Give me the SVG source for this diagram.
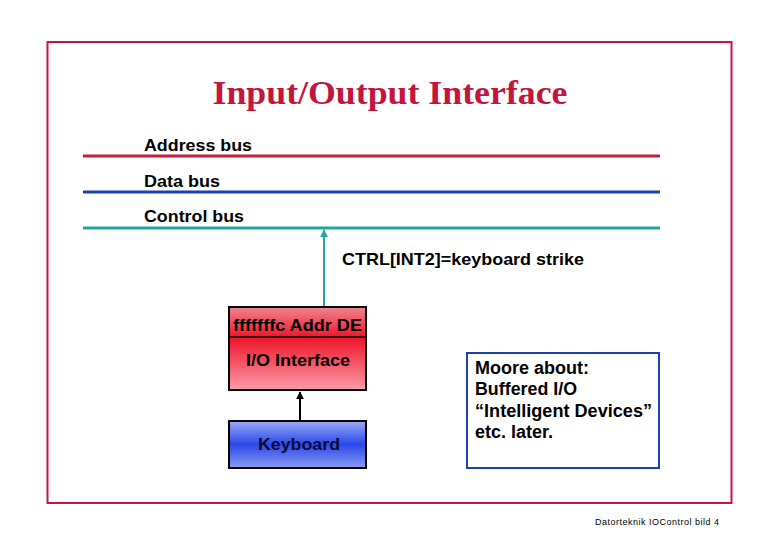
<svg xmlns="http://www.w3.org/2000/svg" width="780" height="540" viewBox="0 0 780 540">
<defs>
<style>
.t{font-family:"Liberation Sans",Arial,sans-serif;font-weight:bold;font-size:17px;fill:#000}
.n{font-size:18px}
.bus{stroke-width:3;fill:none}
</style>
<linearGradient id="gRed" x1="0" y1="0" x2="0" y2="1">
<stop offset="0" stop-color="#f08590"/>
<stop offset="0.37" stop-color="#ee1428"/>
<stop offset="1" stop-color="#fa9ca6"/>
</linearGradient>
<linearGradient id="gBlue" x1="0" y1="0" x2="0" y2="1">
<stop offset="0" stop-color="#9aaaf8"/>
<stop offset="0.5" stop-color="#2a48e8"/>
<stop offset="1" stop-color="#8a9cf4"/>
</linearGradient>
<marker id="ahT" viewBox="0 0 10 10" refX="9" refY="5" markerWidth="4" markerHeight="4" orient="auto" markerUnits="strokeWidth">
<path d="M0,0 L10,5 L0,10 z" fill="#20a898"/>
</marker>
<marker id="ahK" viewBox="0 0 10 10" refX="9" refY="5" markerWidth="4" markerHeight="4" orient="auto" markerUnits="strokeWidth">
<path d="M0,0 L10,5 L0,10 z" fill="#000"/>
</marker>
</defs>
<rect x="0" y="0" width="780" height="540" fill="#fff"/>
<rect x="47.5" y="42" width="684" height="461" fill="none" stroke="#c8143c" stroke-width="2"/>
<text x="390" y="104" text-anchor="middle" font-family="'Liberation Serif','Times New Roman',serif" font-weight="bold" font-size="34" fill="#c4163c" textLength="355" lengthAdjust="spacingAndGlyphs">Input/Output Interface</text>

<g id="buses">
<line class="bus" x1="83" y1="156" x2="660" y2="156" stroke="#cc1c3c"/>
<line class="bus" x1="83" y1="192" x2="660" y2="192" stroke="#1c40b0"/>
<line class="bus" x1="83" y1="228" x2="660" y2="228" stroke="#22a89a"/>
<text class="t" x="144" y="151" textLength="108" lengthAdjust="spacingAndGlyphs">Address bus</text>
<text class="t" x="144" y="187" textLength="76" lengthAdjust="spacingAndGlyphs">Data bus</text>
<text class="t" x="144" y="222" textLength="100" lengthAdjust="spacingAndGlyphs">Control bus</text>
</g>

<g id="connectors">
<line x1="324" y1="307" x2="324" y2="230" stroke="#22a89a" stroke-width="2" marker-end="url(#ahT)"/>
<line x1="300" y1="421" x2="300" y2="392" stroke="#000" stroke-width="2" marker-end="url(#ahK)"/>
</g>
<text class="t" x="342" y="265" textLength="242" lengthAdjust="spacingAndGlyphs">CTRL[INT2]=keyboard strike</text>

<g id="io-interface">
<rect x="229" y="307" width="137" height="83" fill="url(#gRed)" stroke="#000" stroke-width="2"/>
<line x1="229" y1="337" x2="366" y2="337" stroke="#000" stroke-width="1.5"/>
<text class="t" x="297.5" y="331" text-anchor="middle" textLength="129" lengthAdjust="spacingAndGlyphs">fffffffc Addr DE</text>
<text class="t" x="298" y="366" text-anchor="middle" textLength="104" lengthAdjust="spacingAndGlyphs">I/O Interface</text>
</g>

<g id="keyboard">
<rect x="229" y="421" width="137" height="47" fill="url(#gBlue)" stroke="#000" stroke-width="2"/>
<text class="t" x="299" y="450" text-anchor="middle" textLength="82" lengthAdjust="spacingAndGlyphs" style="fill:#0a0a3a">Keyboard</text>
</g>

<g id="note">
<rect x="467" y="353" width="192" height="115" fill="#fff" stroke="#1c40b0" stroke-width="2"/>
<text class="t n" x="475" y="374" textLength="114" lengthAdjust="spacingAndGlyphs">Moore about:</text>
<text class="t n" x="475" y="395" textLength="102" lengthAdjust="spacingAndGlyphs">Buffered I/O</text>
<text class="t n" x="475" y="417" textLength="177" lengthAdjust="spacingAndGlyphs">“Intelligent Devices”</text>
<text class="t n" x="475" y="438" textLength="78" lengthAdjust="spacingAndGlyphs">etc. later.</text>
</g>

<text x="595" y="525" font-family="'Liberation Sans',Arial,sans-serif" font-size="9" fill="#000" textLength="124" lengthAdjust="spacing">Datorteknik IOControl bild 4</text>
</svg>
